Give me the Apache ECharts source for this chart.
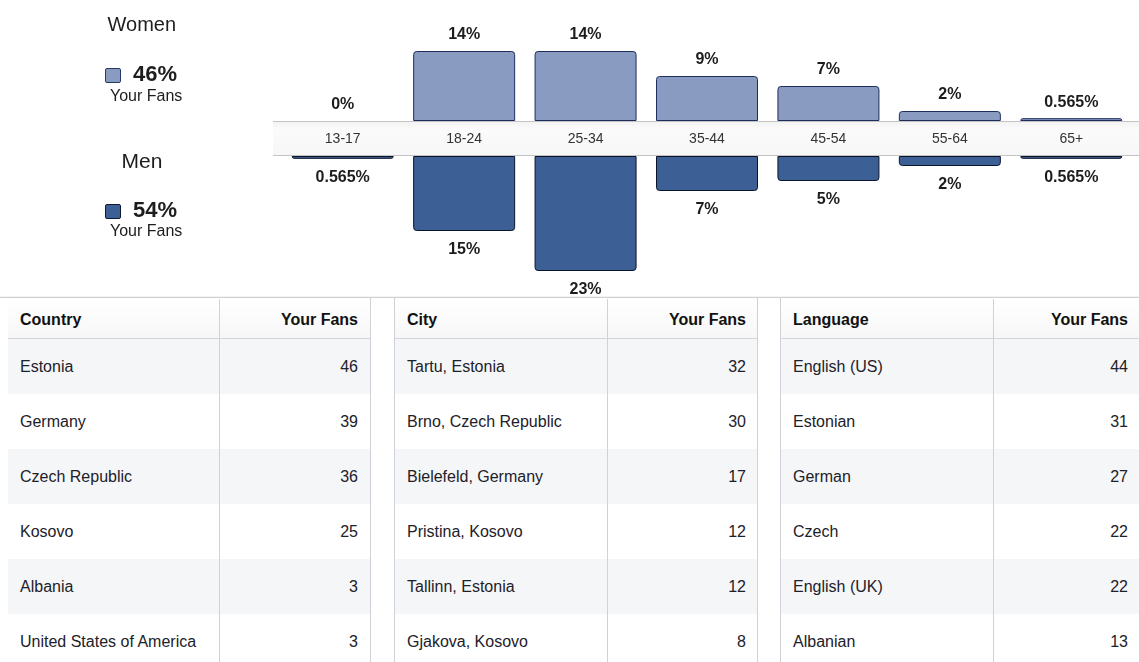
<!DOCTYPE html>
<html>
<head>
<meta charset="utf-8">
<script src="https://cdn.jsdelivr.net/npm/echarts@6/dist/echarts.min.js"></script>
<style>
  html, body { margin: 0; padding: 0; background: #fff; }
  body { width: 1139px; height: 662px; position: relative; overflow: hidden;
         font-family: "Liberation Sans", Arial, Helvetica, sans-serif; color: #1d2129; }
  #chart { position: absolute; left: 0; top: 0; width: 1139px; height: 298px; }
  .lg { position: absolute; white-space: nowrap; line-height: 1; }
  .sw { position: absolute; width: 14px; height: 13px; border-radius: 2px; }
  .tbl { position: absolute; top: 298px; height: 364px; }
  .cell { position: absolute; box-sizing: border-box; white-space: nowrap; font-size: 16px;
          display: flex; align-items: center; }
  .hd { font-weight: bold; color: #111; }
  .num { justify-content: flex-end; }
</style>
</head>
<body>
<div id="chart"></div>
<div id="legend"></div>
<div id="tables"></div>
<script>
// ---- data ----
const ageGroups = ['13-17', '18-24', '25-34', '35-44', '45-54', '55-64', '65+'];
const women = [0, 14, 14, 9, 7, 2, 0.565];
const men = [0.565, 15, 23, 7, 5, 2, 0.565];
const womenTotal = '46%';
const menTotal = '54%';

const countries = ['Estonia', 'Germany', 'Czech Republic', 'Kosovo', 'Albania', 'United States of America'];
const countryFans = [46, 39, 36, 25, 3, 3];
const cities = ['Tartu, Estonia', 'Brno, Czech Republic', 'Bielefeld, Germany', 'Pristina, Kosovo', 'Tallinn, Estonia', 'Gjakova, Kosovo'];
const cityFans = [32, 30, 17, 12, 12, 8];
const languages = ['English (US)', 'Estonian', 'German', 'Czech', 'English (UK)', 'Albanian'];
const languageFans = [44, 31, 27, 22, 22, 13];

// ---- chart ----
const chart = echarts.init(document.getElementById('chart'), null, { renderer: 'canvas' });
const FONT = '"Liberation Sans", Arial, Helvetica, sans-serif';
const labelStyle = { show: true, fontFamily: FONT, fontSize: 16, fontWeight: 'bold', color: '#1d1d1d',
  formatter: p => p.value + '%' };
// zero-valued bars get no outline
const prep = arr => arr.map(v => v === 0 ? { value: v, itemStyle: { borderWidth: 0 } } : v);

chart.setOption({
  animation: false,
  graphic: [
    { type: 'rect', z: 0, shape: { x: 273, y: 121, width: 866, height: 34 },
      style: { fill: new echarts.graphic.LinearGradient(0, 0, 0, 1, [
        { offset: 0, color: '#f2f2f2' }, { offset: 0.25, color: '#fbfbfb' }, { offset: 1, color: '#f7f7f7' }]) } },
    { type: 'line', z: 1, shape: { x1: 273, y1: 121.5, x2: 1139, y2: 121.5 }, style: { stroke: '#c4c4c4', lineWidth: 1 } },
    { type: 'line', z: 1, shape: { x1: 273, y1: 155.5, x2: 1139, y2: 155.5 }, style: { stroke: '#c4c4c4', lineWidth: 1 } },
    { type: 'line', z: 1, shape: { x1: 0, y1: 297.5, x2: 1139, y2: 297.5 }, style: { stroke: '#d0d0d0', lineWidth: 1.5 } }
  ],
  grid: [
    { left: 282, width: 850, top: 21, height: 100 },
    { left: 282, width: 850, top: 156, height: 125 }
  ],
  xAxis: [
    { type: 'category', gridIndex: 0, data: ageGroups, z: 5,
      axisLine: { show: false }, axisTick: { show: false },
      axisLabel: { margin: 11, fontFamily: FONT, fontSize: 14, color: '#333' } },
    { type: 'category', gridIndex: 1, data: ageGroups, show: false }
  ],
  yAxis: [
    { type: 'value', gridIndex: 0, min: 0, max: 20, show: false, splitLine: { show: false } },
    { type: 'value', gridIndex: 1, min: 0, max: 25, inverse: true, show: false, splitLine: { show: false } }
  ],
  series: [
    { name: 'Women', type: 'bar', xAxisIndex: 0, yAxisIndex: 0, data: prep(women), barWidth: 102,
      itemStyle: { color: '#8a9bc2', borderColor: '#1f2d5c', borderWidth: 1, borderRadius: [3, 3, 0, 0] },
      label: Object.assign({}, labelStyle, { position: 'top', distance: 8 }) },
    { name: 'Men', type: 'bar', xAxisIndex: 1, yAxisIndex: 1, data: prep(men), barWidth: 102,
      itemStyle: { color: '#3c5f96', borderColor: '#0c1428', borderWidth: 1, borderRadius: [0, 0, 3, 3] },
      label: Object.assign({}, labelStyle, { position: 'bottom', distance: 11 }) }
  ]
});

// ---- legend ----
const lg = document.getElementById('legend');
function addText(txt, cx, cy, size, bold, align) {
  const d = document.createElement('div');
  d.className = 'lg';
  d.textContent = txt;
  d.style.fontSize = size + 'px';
  d.style.fontWeight = bold ? 'bold' : 'normal';
  d.style.color = '#1d1d1d';
  lg.appendChild(d);
  const w = d.offsetWidth, h = d.offsetHeight;
  d.style.left = (align === 'left' ? cx : cx - w / 2) + 'px';
  d.style.top = (cy - h / 2 - size * 0.04) + 'px';
}
function addSwatch(x, y, fill, border) {
  const s = document.createElement('div');
  s.className = 'sw';
  s.style.left = x + 'px'; s.style.top = y + 'px';
  s.style.background = fill; s.style.border = '1.5px solid ' + border;
  lg.appendChild(s);
}
addText('Women', 142, 25, 20, false);
addSwatch(105, 68, '#8a9bc2', '#27386a');
addText(womenTotal, 133, 75, 22, true, 'left');
addText('Your Fans', 146, 97, 16, false);
addText('Men', 142, 161, 21, false);
addSwatch(105, 204, '#3c5f96', '#101a30');
addText(menTotal, 133, 211, 22, true, 'left');
addText('Your Fans', 146, 232, 16, false);

// ---- tables ----
const tablesEl = document.getElementById('tables');
function buildTable(left, split, right, title, names, vals, leftBorder, rightBorder) {
  const t = document.createElement('div');
  t.className = 'tbl';
  t.style.left = left + 'px';
  t.style.width = (right - left) + 'px';
  if (leftBorder) t.style.borderLeft = '1px solid #cfd2d6';
  if (rightBorder) t.style.borderRight = '1px solid #cfd2d6';
  t.style.boxSizing = 'border-box';
  const W = right - left;
  const sx = split - left;
  const headH = 41, rowH = 55;
  const hb = document.createElement('div');
  hb.style.cssText = 'position:absolute;left:0;top:1px;width:100%;height:' + (headH - 1) + 'px;background:linear-gradient(#ffffff,#f7f7f7);border-bottom:1px solid #d3d6da;box-sizing:border-box;';
  t.appendChild(hb);
  for (let i = 0; i < names.length; i++) {
    const rb = document.createElement('div');
    rb.style.cssText = 'position:absolute;left:0;width:100%;top:' + (headH + i * rowH) + 'px;height:' + rowH + 'px;background:' + (i % 2 === 0 ? '#f5f6f8' : '#ffffff') + ';';
    t.appendChild(rb);
  }
  const vl = document.createElement('div');
  vl.style.cssText = 'position:absolute;top:1px;bottom:0;left:' + sx + 'px;width:1px;background:#cfd2d6;';
  t.appendChild(vl);
  function cell(txt, x, w, y, h, cls) {
    const c = document.createElement('div');
    c.className = 'cell ' + cls;
    c.textContent = txt;
    c.style.left = x + 'px'; c.style.width = w + 'px';
    c.style.top = y + 'px'; c.style.height = h + 'px';
    c.style.paddingLeft = '12px'; c.style.paddingRight = '12px';
    t.appendChild(c);
  }
  cell(title, 0, sx, 2, headH - 2, 'hd');
  cell('Your Fans', sx, W - sx - (rightBorder ? 1 : 0), 2, headH - 2, 'hd num');
  for (let i = 0; i < names.length; i++) {
    cell(names[i], 0, sx, headH + i * rowH, rowH, '');
    cell(String(vals[i]), sx, W - sx - (rightBorder ? 1 : 0), headH + i * rowH, rowH, 'num');
  }
  tablesEl.appendChild(t);
}
buildTable(8, 219, 371, 'Country', countries, countryFans, false, true);
buildTable(394, 606, 758, 'City', cities, cityFans, true, true);
buildTable(780, 992, 1139, 'Language', languages, languageFans, true, false);
</script>
</body>
</html>
